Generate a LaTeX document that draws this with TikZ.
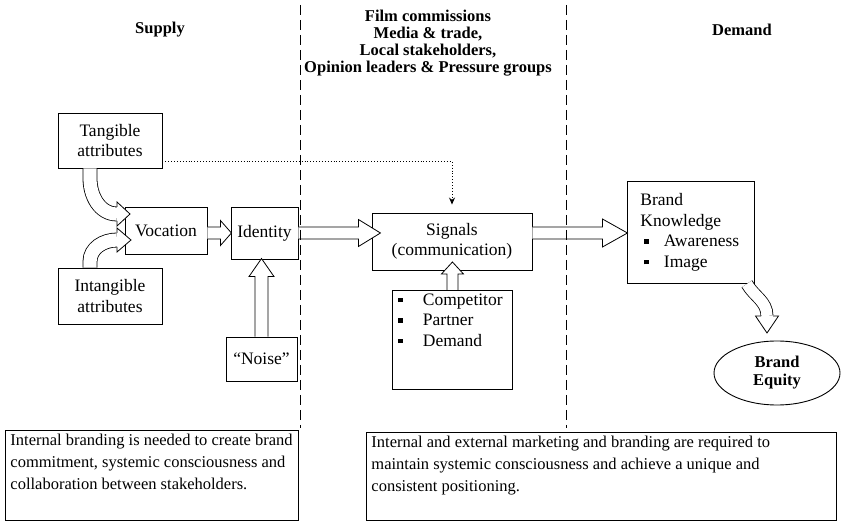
\documentclass[tikz,border=0pt]{standalone}
\usepackage{fontspec}
\setmainfont{Liberation Serif}
\usetikzlibrary{shapes.geometric,arrows.meta}

\tikzset{
  box/.style={draw, line width=0.9pt, inner sep=0pt, align=center, font=\fontsize{17.5}{20.5}\selectfont},
  hdr/.style={align=center, font=\bfseries\fontsize{16.5}{17}\selectfont},
  note/.style={draw, line width=0.9pt, anchor=north west, inner xsep=5pt, inner ysep=4pt, font=\fontsize{16.5}{22}\selectfont},
  shaft/.style={draw, double=white, line width=0.8pt, double distance=#1},
  divider/.style={line width=0.8pt, dash pattern=on 10pt off 5pt},
  hint/.style={dotted, line width=0.9pt, -{Stealth[length=7pt,width=6pt]}}
}

% small square bullet
\newcommand{\sqb}{\rule[3pt]{4.5pt}{4.5pt}}
% block arrow head: tip, angle, length, half width, half shaft
\newcommand{\bhead}[5]{%
  \begin{scope}[shift={#1}, rotate=#2]
    \filldraw[fill=white, line width=0.8pt] (-#3,#5) -- (-#3,#4) -- (0,0) -- (-#3,-#4) -- (-#3,-#5);
  \end{scope}}
% straight block arrow: start, angle, length, head length, half width, half shaft
\newcommand{\barrow}[6]{%
  \begin{scope}[shift={#1}, rotate=#2]
    \filldraw[fill=white, line width=0.8pt] (0,#6) -- (#3-#4,#6) -- (#3-#4,#5) -- (#3,0)
      -- (#3-#4,-#5) -- (#3-#4,-#6) -- (0,-#6);
  \end{scope}}

\begin{document}
\begin{tikzpicture}[x=1pt, y=-1pt]
    \useasboundingbox (0,0) rectangle (841,526);

    % Headings
    \node[hdr] (supply) at (160,30) {Supply};
    \node[hdr] (actors) at (428,43) {Film commissions\\Media \& trade,\\Local stakeholders,\\Opinion leaders \& Pressure groups};
    \node[hdr] (demand) at (742,30) {Demand};

    % Supply side
    \node[box, minimum width=104pt, minimum height=55pt] (tangible) at (110,140.5) {Tangible\\attributes};
    \node[box, minimum width=104pt, minimum height=56pt] (intangible) at (110,296) {Intangible\\attributes};
    \node[box, minimum width=82pt, minimum height=47pt] (vocation) at (166,230.5) {Vocation};
    \node[box, minimum width=67pt, minimum height=52pt] (identity) at (264.5,233) {Identity};
    \node[box, minimum width=71pt, minimum height=44pt] (noise) at (261.5,359) {``Noise''};

    % Intermediaries
    \node[box, minimum width=160pt, minimum height=57pt] (signals) at (452,241.5) {Signals\\(communication)};
    \node[box, anchor=north west] (others) at (392,290) {\parbox[c][99pt][t]{120pt}{\vspace*{3pt}%
      \hspace*{6pt}\sqb\hspace{20pt}Competitor\\
      \hspace*{6pt}\sqb\hspace{20pt}Partner\\
      \hspace*{6pt}\sqb\hspace{20pt}Demand}};

    % Demand side
    \node[box, anchor=north west] (knowledge) at (627,181) {\parbox[c][102pt][c]{127pt}{%
      \hspace*{13pt}Brand\\
      \hspace*{13pt}Knowledge\\
      \hspace*{17pt}\sqb\hspace{15pt}Awareness\\
      \hspace*{17pt}\sqb\hspace{15pt}Image}};
    \node[draw, ellipse, line width=0.9pt, inner sep=0pt, minimum width=126pt, minimum height=64pt,
      align=center, font=\bfseries\fontsize{16.5}{18}\selectfont] (equity) at (777,373) {Brand\\Equity};

    % Notes
    \node[note] (internal) at (5,430) {\parbox[c][82pt][t]{283pt}{Internal branding is needed to create brand\\commitment, systemic consciousness and\\collaboration between stakeholders.}};
    \node[note] (external) at (366,432) {\parbox[c][80pt][t]{460pt}{Internal and external marketing and branding are required to\\maintain systemic consciousness and achieve a unique and\\consistent positioning.}};

    % Curved connections
    \coordinate (a1) at (117,214);
    \coordinate (a2) at (117,240);
    \coordinate (a3) at (767,316);
    \draw[shaft=13.2pt] ([xshift=-20pt]tangible.south) -- ++(0,10) to[out=-90,in=180] (a1);
    \bhead{([xshift=13pt]a1)}{0}{13}{12}{7}
    \draw[shaft=13.2pt] ([xshift=-20pt]intangible.north) -- ++(0,-6) to[out=90,in=180] (a2);
    \bhead{([xshift=14pt]a2)}{0}{14}{12}{7}
    \draw[shaft=11.2pt] ([xshift=-8pt]knowledge.south east) to[out=-60,in=90] (a3);
    \bhead{([yshift=-17pt]a3)}{-90}{17}{11.5}{6}

    % Straight connections
    \barrow{(vocation.east |- identity.west)}{0}{24}{11}{12.5}{6}
    \barrow{(identity.east)}{0}{82}{22}{13.5}{6}
    \barrow{(noise.north)}{90}{78}{18}{12.5}{6.5}
    \barrow{(others.north)}{90}{28}{12}{11}{5.5}
    \barrow{(signals.east |- identity.east)}{0}{95}{25}{14}{6}

    \draw[hint] ([yshift=7pt]tangible.south east) -| ([yshift=8pt]signals.north);

    % Dividers
    \draw[divider] (300,5) -- (300,428);
    \draw[divider] (566,5) -- (566,428);
\end{tikzpicture}
\end{document}
